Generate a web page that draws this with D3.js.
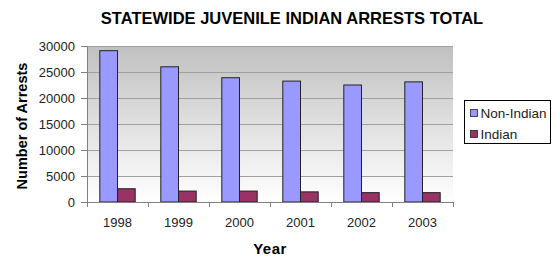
<!DOCTYPE html>
<meta charset="utf-8">
<style>
  body { margin: 0; background: #fff; }
  text { font-family: Arial, "Liberation Sans", sans-serif; }
</style>
<body>
<div id="chart"></div>
<script src="https://cdn.jsdelivr.net/npm/d3@7"></script>
<script>

var years = ['1998', '1999', '2000', '2001', '2002', '2003'];
var nonIndian = [29100, 26000, 23900, 23250, 22500, 23100];
var indian = [2550, 2100, 2100, 1950, 1800, 1800];
var yTicks = [0, 5000, 10000, 15000, 20000, 25000, 30000];
var seriesNames = ['Non-Indian', 'Indian'];
var seriesColors = ['#9999ff', '#993366'];

var width = 555,
    height = 271;

var margin = {top: 46, left: 87, right: 102, bottom: 69};
var plotW = width - margin.left - margin.right,
    plotH = height - margin.top - margin.bottom;

var svg = d3.select('#chart').append('svg')
    .attr('width', width)
    .attr('height', height);

var defs = svg.append('defs');
var grad = defs.append('linearGradient')
    .attr('id', 'bg')
    .attr('x1', 0).attr('y1', 0).attr('x2', 0).attr('y2', 1);
grad.append('stop').attr('offset', '0%').attr('stop-color', '#c0c0c0');
grad.append('stop').attr('offset', '100%').attr('stop-color', '#ffffff');

var x = d3.scaleBand().domain(years).range([0, plotW]).paddingInner(0).paddingOuter(0);
var y = d3.scaleLinear().domain([0, 30000]).range([plotH, 0]);

var g = svg.append('g').attr('transform', 'translate(' + margin.left + ',' + margin.top + ')');

g.append('rect')
    .attr('width', plotW)
    .attr('height', plotH)
    .attr('fill', 'url(#bg)');

// gridlines
g.selectAll('.grid')
    .data(yTicks.slice(1))
    .enter().append('line')
    .attr('x1', 0).attr('x2', plotW)
    .attr('y1', function(d) { return y(d) + 0.5; })
    .attr('y2', function(d) { return y(d) + 0.5; })
    .style('stroke', '#a0a0a0');

// bars
var barW = 17.7,
    groupOff = (x.bandwidth() - 2 * barW) / 2;
var series = [nonIndian, indian];
series.forEach(function(vals, si) {
  g.selectAll('.bar' + si)
    .data(vals)
    .enter().append('rect')
    .attr('x', function(d, i) { return x(years[i]) + groupOff + si * barW; })
    .attr('y', function(d) { return y(d); })
    .attr('width', barW)
    .attr('height', function(d) { return plotH - y(d); })
    .style('fill', seriesColors[si])
    .style('stroke', '#222')
    .style('stroke-width', 1);
});

// y axis
var yAxis = d3.axisLeft(y).tickValues(yTicks).tickSize(6).tickPadding(6).tickFormat(d3.format('d'));
g.append('g').call(yAxis)
    .call(function(a) {
      a.select('.domain').style('stroke', '#808080');
      a.selectAll('.tick line').style('stroke', '#808080');
      a.selectAll('text').style('font-size', '13px').style('fill', '#222');
    });

// x axis, ticks at category boundaries
var xa = g.append('g').attr('transform', 'translate(0,' + plotH + ')');
xa.append('line').attr('x1', 0).attr('x2', plotW).attr('y1', 0.5).attr('y2', 0.5).style('stroke', '#808080');
xa.selectAll('.xt')
    .data(years.concat(['end']))
    .enter().append('line')
    .attr('x1', function(d, i) { return i * x.step() + 0.5; })
    .attr('x2', function(d, i) { return i * x.step() + 0.5; })
    .attr('y1', 0).attr('y2', 5)
    .style('stroke', '#808080');
xa.selectAll('.xl')
    .data(years)
    .enter().append('text')
    .attr('x', function(d) { return x(d) + x.bandwidth() / 2; })
    .attr('y', 25)
    .attr('text-anchor', 'middle')
    .style('font-size', '13px')
    .style('fill', '#222')
    .text(function(d) { return d; });

// titles
svg.append('text')
    .attr('x', 292).attr('y', 24)
    .attr('text-anchor', 'middle')
    .style('font-size', '16.5px')
    .style('font-weight', 'bold')
    .text('STATEWIDE JUVENILE INDIAN ARRESTS TOTAL');

svg.append('text')
    .attr('x', 270).attr('y', 254)
    .attr('text-anchor', 'middle')
    .style('font-size', '15px')
    .style('font-weight', 'bold')
    .style('letter-spacing', '0.5px')
    .text('Year');

svg.append('text')
    .attr('transform', 'translate(27,126) rotate(-90)')
    .attr('text-anchor', 'middle')
    .style('font-size', '14.5px')
    .style('font-weight', 'bold')
    .text('Number of Arrests');

// legend
var lg = svg.append('g').attr('transform', 'translate(464.5,100.5)');
lg.append('rect')
    .attr('width', 86).attr('height', 43)
    .style('fill', '#fff')
    .style('stroke', '#000');
seriesNames.forEach(function(name, i) {
  var row = lg.append('g').attr('transform', 'translate(6,' + (11 + i * 21) + ')');
  row.append('rect')
    .attr('x', 0).attr('y', -2)
    .attr('width', 7).attr('height', 7)
    .style('fill', seriesColors[i])
    .style('stroke', '#222')
    .style('stroke-width', 0.8);
  row.append('text')
    .attr('x', 10).attr('y', 6)
    .style('font-size', '13.5px')
    .style('fill', '#222')
    .text(name);
});

</script>
</body>
